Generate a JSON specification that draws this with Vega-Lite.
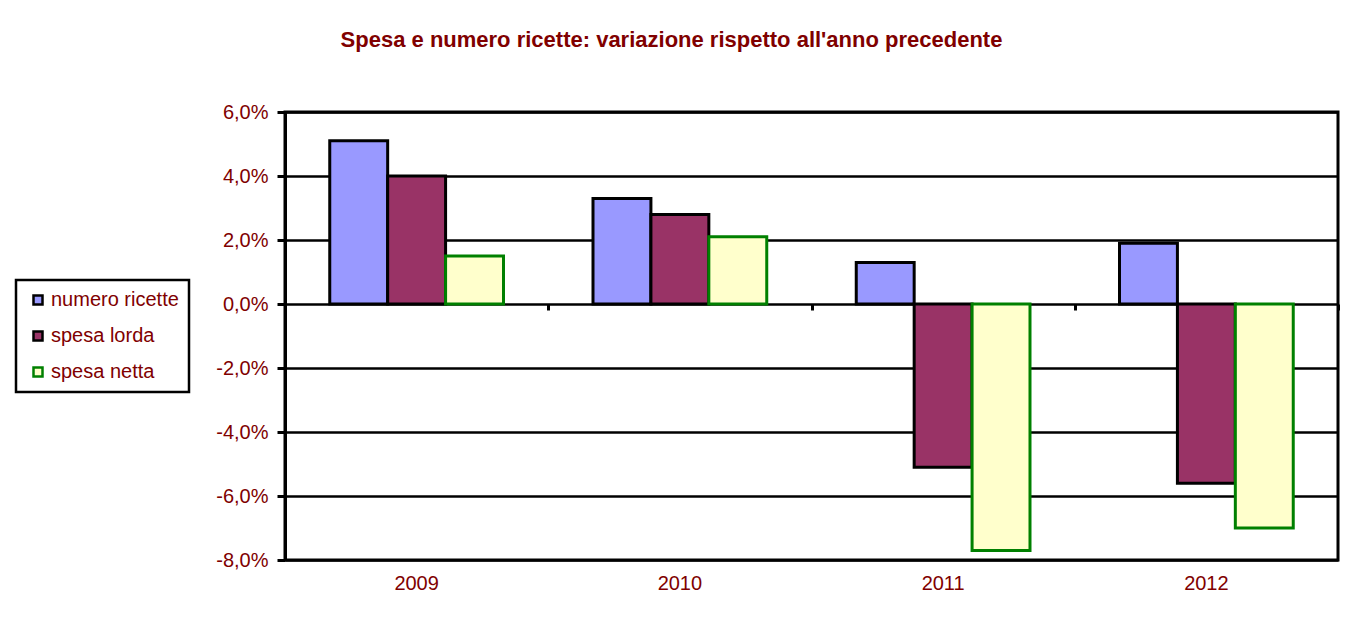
{
  "$schema": "https://vega.github.io/schema/vega-lite/v6.json",
  "autosize": "none",
  "width": 1053,
  "height": 448,
  "padding": {"left": 285, "top": 112, "right": 8, "bottom": 63},
  "background": "white",
  "title": {
    "text": "Spesa e numero ricette: variazione rispetto all'anno precedente",
    "fontSize": 22,
    "fontWeight": "bold",
    "color": "#800000",
    "anchor": "middle",
    "frame": "group",
    "dx": -140,
    "baseline": "alphabetic",
    "offset": 33
  },
  "data": {
    "values": [
      {"anno": "2009", "serie": "numero ricette", "valore": 5.1},
      {"anno": "2009", "serie": "spesa lorda", "valore": 4.0},
      {"anno": "2009", "serie": "spesa netta", "valore": 1.5},
      {"anno": "2010", "serie": "numero ricette", "valore": 3.3},
      {"anno": "2010", "serie": "spesa lorda", "valore": 2.8},
      {"anno": "2010", "serie": "spesa netta", "valore": 2.1},
      {"anno": "2011", "serie": "numero ricette", "valore": 1.3},
      {"anno": "2011", "serie": "spesa lorda", "valore": -5.1},
      {"anno": "2011", "serie": "spesa netta", "valore": -7.7},
      {"anno": "2012", "serie": "numero ricette", "valore": 1.9},
      {"anno": "2012", "serie": "spesa lorda", "valore": -5.6},
      {"anno": "2012", "serie": "spesa netta", "valore": -7.0}
    ]
  },
  "layer": [
    {
      "mark": {"type": "bar", "strokeWidth": 3},
      "encoding": {
        "x": {
          "field": "anno",
          "type": "nominal",
          "scale": {"paddingInner": 0.34, "paddingOuter": 0.17},
          "axis": {
            "orient": "bottom",
            "title": null,
            "labelAngle": 0,
            "domain": false,
            "ticks": false,
            "grid": false,
            "labelPadding": 13,
            "labelFontSize": 20,
            "labelColor": "#800000"
          }
        },
        "xOffset": {
          "field": "serie",
          "type": "nominal",
          "sort": ["numero ricette", "spesa lorda", "spesa netta"],
          "scale": {"paddingInner": 0, "paddingOuter": 0}
        },
        "y": {
          "field": "valore",
          "type": "quantitative",
          "scale": {"domain": [-8, 6], "nice": false, "zero": false},
          "axis": {
            "title": null,
            "values": [-8, -6, -4, -2, 0, 2, 4, 6],
            "labelExpr": "replace(replace(format(datum.value, '.1f'), '.', ','), '\u2212', '-') + '%'",
            "labelFontSize": 20,
            "labelColor": "#800000",
            "labelPadding": 9,
            "domain": true,
            "domainColor": "#000000",
            "domainWidth": 3,
            "ticks": true,
            "tickColor": "#000000",
            "tickWidth": 3,
            "tickSize": 8,
            "grid": true,
            "gridColor": "#000000",
            "gridWidth": 2.5,
            "gridOpacity": 1
          }
        },
        "fill": {
          "field": "serie",
          "type": "nominal",
          "scale": {
            "domain": ["numero ricette", "spesa lorda", "spesa netta"],
            "range": ["#9999FF", "#993366", "#FFFFCC"]
          },
          "legend": {"title": null}
        },
        "stroke": {
          "field": "serie",
          "type": "nominal",
          "scale": {
            "domain": ["numero ricette", "spesa lorda", "spesa netta"],
            "range": ["#000000", "#000000", "#008000"]
          },
          "legend": {"title": null}
        }
      }
    },
    {
      "mark": {"type": "point", "opacity": 0},
      "encoding": {
        "x": {
          "field": "anno",
          "type": "nominal",
          "scale": {"type": "band", "paddingInner": 0, "paddingOuter": 0},
          "axis": {
            "orient": "bottom",
            "offset": -256,
            "title": null,
            "domain": false,
            "labels": false,
            "grid": false,
            "ticks": true,
            "tickBand": "extent",
            "tickSize": 6,
            "tickWidth": 3,
            "tickColor": "#000000"
          }
        },
        "y": {"datum": 0}
      }
    }
  ],
  "resolve": {"scale": {"x": "independent"}, "axis": {"x": "independent"}},
  "config": {
    "font": "Liberation Sans",
    "view": {"stroke": "#000000", "strokeWidth": 3},
    "legend": {
      "orient": "none",
      "legendX": -269,
      "legendY": 168,
      "direction": "vertical",
      "padding": 10,
      "rowPadding": 16,
      "strokeColor": "#000000",
      "strokeWidth": 2.5,
      "fillColor": "#FFFFFF",
      "symbolType": "square",
      "symbolSize": 81,
      "symbolStrokeWidth": 2.5,
      "symbolOffset": 2,
      "labelOffset": 3,
      "labelFontSize": 20,
      "labelColor": "#800000",
      "labelLimit": 300
    }
  }
}
